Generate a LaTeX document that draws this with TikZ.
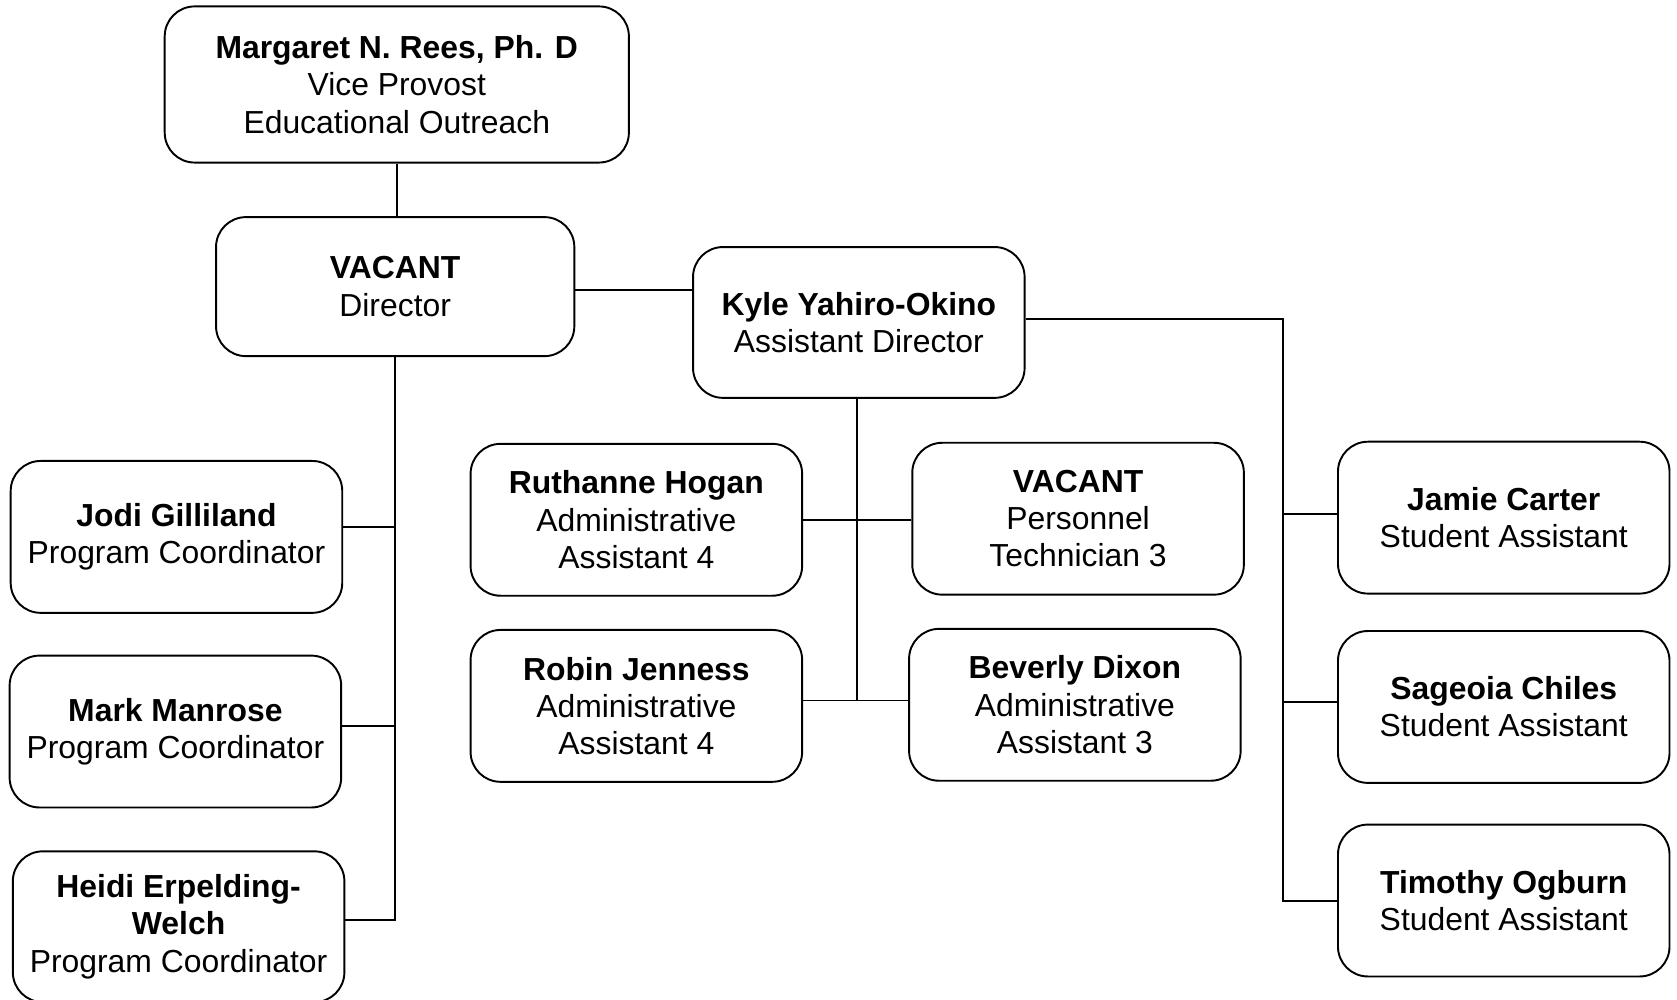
\documentclass[tikz,border=0pt]{standalone}
\usepackage{fontspec}
\setmainfont{Liberation Sans}
\begin{document}
\begin{tikzpicture}[x=0.5pt,y=-0.5pt,
  person/.style={draw,line width=0.9pt,rounded corners=14pt,align=center,inner sep=0pt,
    minimum width=155pt,minimum height=71pt,font=\fontsize{14.9}{17.4}\selectfont},
  bus/.style={line width=0.9pt}]
\useasboundingbox (0,0) rectangle (1568,935);
\clip (0,0) rectangle (1568,935);

\node[person,minimum width=217pt,minimum height=73pt] (rees) at (371,79) {\textbf{Margaret N. Rees, Ph. D}\\Vice Provost\\Educational Outreach};
\node[person,minimum width=167.5pt,minimum height=65pt] (dir) at (369.5,268) {\textbf{VACANT}\\Director};
\node[person,minimum height=70.5pt] (kyle) at (803,301.5) {\textbf{Kyle Yahiro-Okino}\\Assistant Director};

\node[person] (jodi) at (165,502) {\textbf{Jodi Gilliland}\\Program Coordinator};
\node[person] (mark) at (164,684) {\textbf{Mark Manrose}\\Program Coordinator};
\node[person,minimum height=70.5pt] (heidi) at (167,866.5) {\textbf{Heidi Erpelding-}\\\textbf{Welch}\\Program Coordinator};

\node[person] (ruth) at (595,486) {\textbf{Ruthanne Hogan}\\Administrative\\Assistant 4};
\node[person] (pers) at (1008,485) {\textbf{VACANT}\\Personnel\\Technician 3};
\node[person] (robin) at (595,660) {\textbf{Robin Jenness}\\Administrative\\Assistant 4};
\node[person] (bev) at (1005,659) {\textbf{Beverly Dixon}\\Administrative\\Assistant 3};

\node[person] (jamie) at (1406,484) {\textbf{Jamie Carter}\\Student Assistant};
\node[person] (sage) at (1406,661) {\textbf{Sageoia Chiles}\\Student Assistant};
\node[person] (tim) at (1406,842) {\textbf{Timothy Ogburn}\\Student Assistant};

% branch points, a little above the box centres
\coordinate (jodib) at ([yshift=4.5pt]jodi.east);
\coordinate (markb) at ([yshift=2.5pt]mark.east);
\coordinate (heidib) at ([yshift=3pt]heidi.east);
\coordinate (robinb) at ([yshift=2.5pt]robin.east);
\coordinate (jamieb) at ([yshift=1.5pt]jamie.west);
\coordinate (sageb) at ([yshift=2.5pt]sage.west);

% top of the chart
\draw[bus] (rees.south) -- (rees.south |- dir.north);
\draw[bus] ([yshift=-1.5pt]dir.east) -- ([yshift=-1.5pt]dir.east -| kyle.west);

% director's coordinators
\coordinate (lbus) at (370,0);
\draw[bus] (dir.south) |- (heidib);
\draw[bus] (lbus |- jodib) -- (jodib);
\draw[bus] (lbus |- markb) -- (markb);

% assistant director's staff
\coordinate (mbus) at (801,0);
\draw[bus] (mbus |- kyle.south) -- (mbus |- robinb);
\draw[bus] (ruth.east) -- (ruth.east -| pers.west);
\draw[bus] (robinb) -- (robinb -| bev.west);

% student assistants
\coordinate (rbus) at (1200,0);
\draw[bus] ([yshift=1.5pt]kyle.east) -| (rbus |- tim.west) -- (tim.west);
\draw[bus] (rbus |- jamieb) -- (jamieb);
\draw[bus] (rbus |- sageb) -- (sageb);
\end{tikzpicture}
\end{document}
